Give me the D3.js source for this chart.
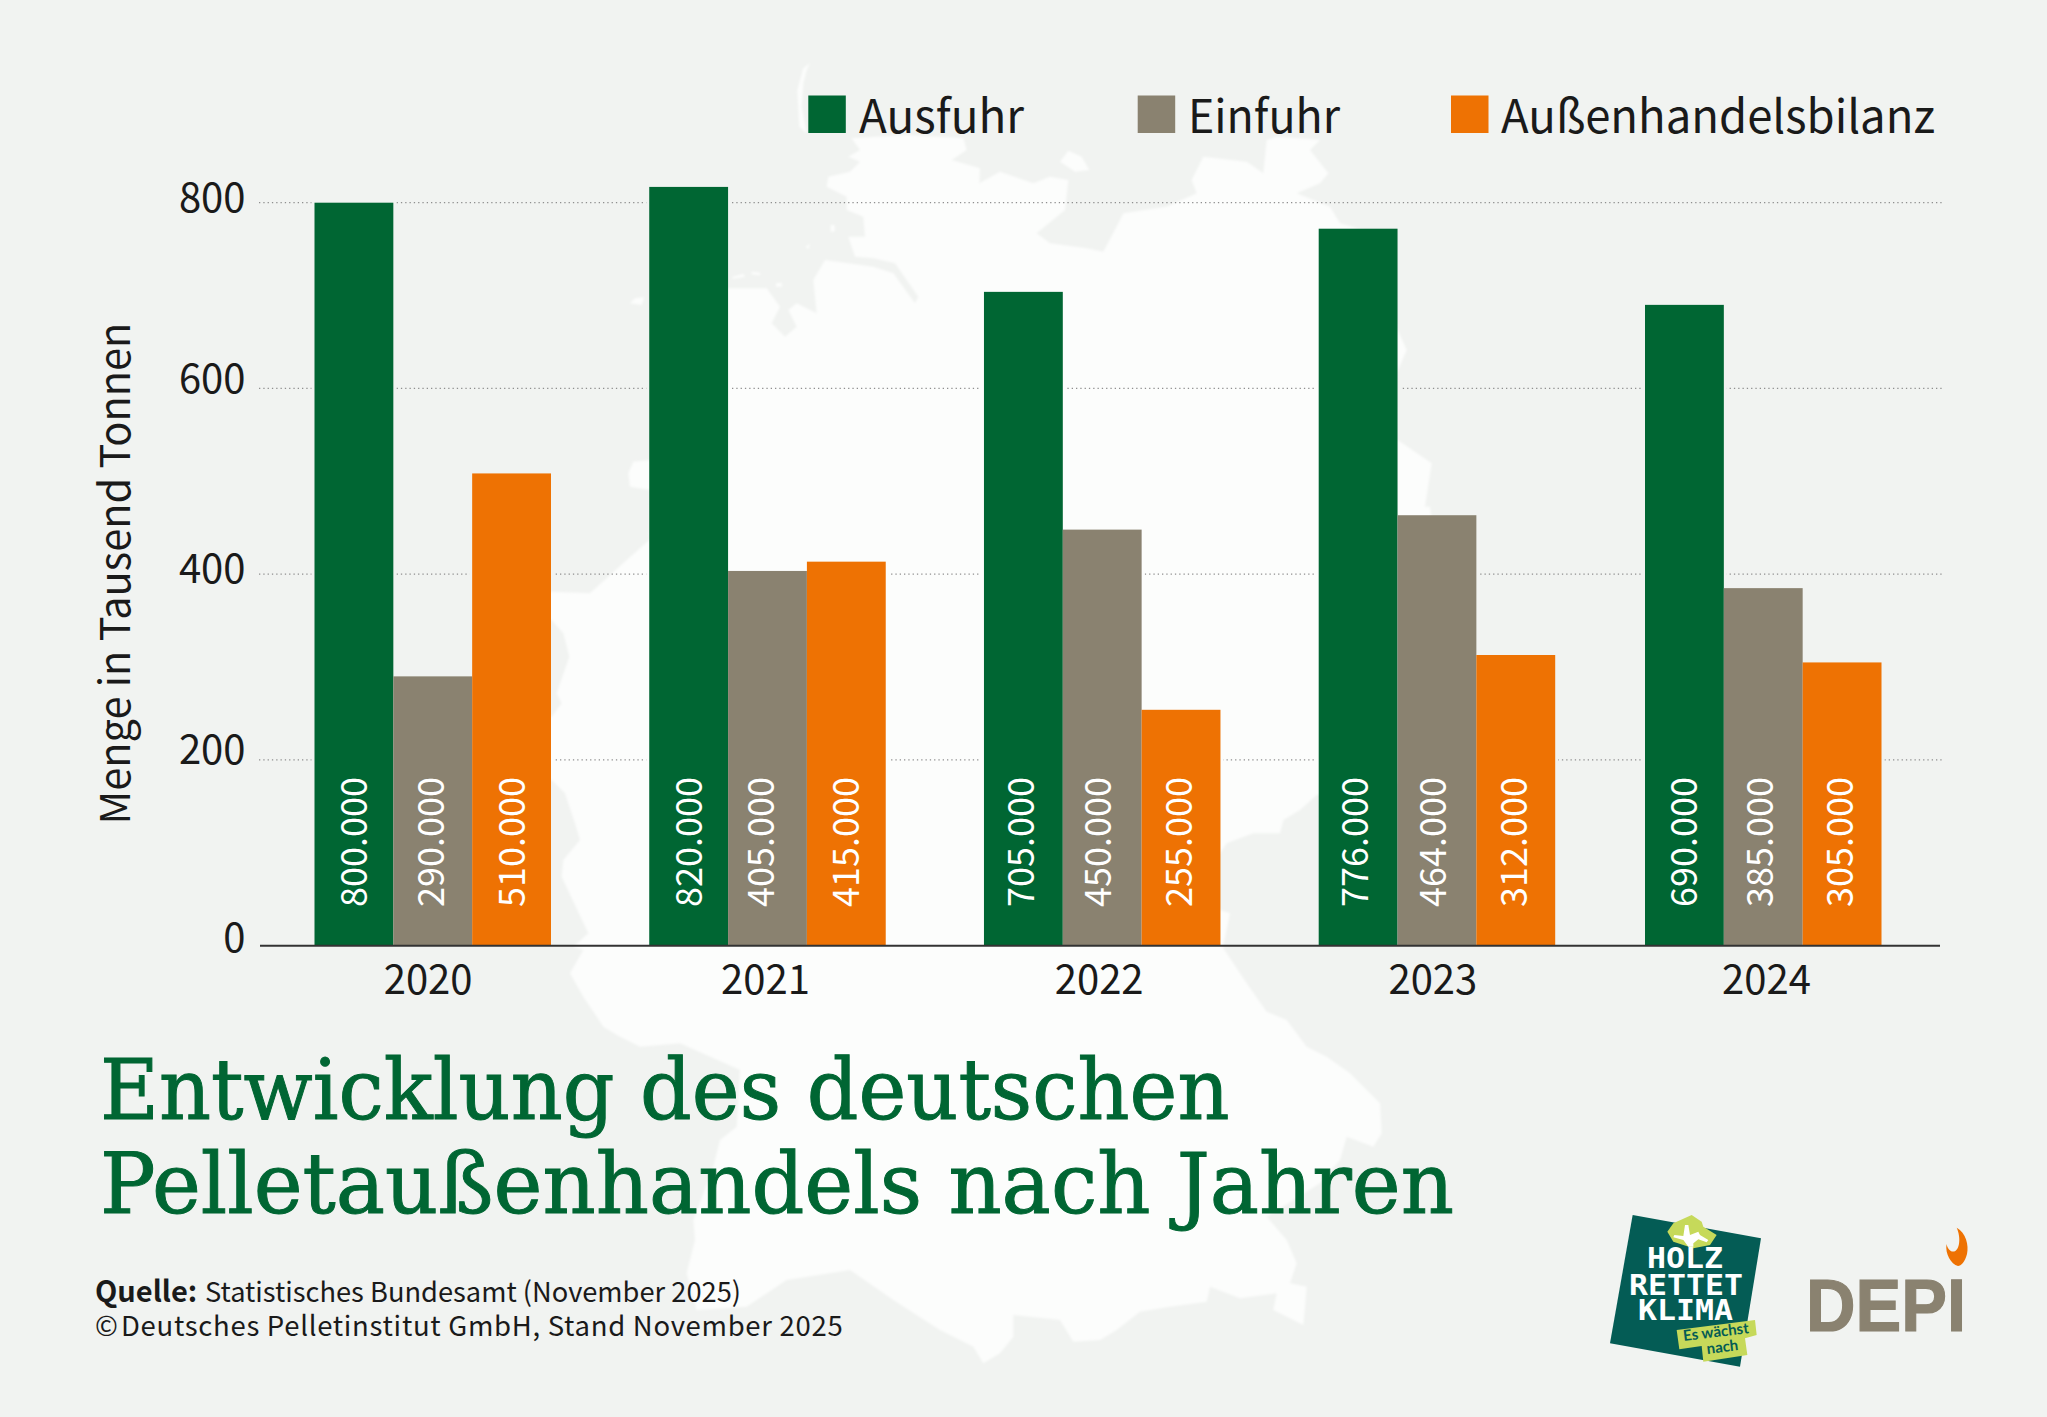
<!DOCTYPE html>
<html lang="de">
<head>
<meta charset="utf-8">
<title>Entwicklung des deutschen Pelletaußenhandels nach Jahren</title>
<script src="https://cdn.jsdelivr.net/npm/d3@7/dist/d3.min.js"></script>
<style>
html,body{margin:0;padding:0;background:#F1F3F1;}
svg{display:block;}
text{font-family:"Noto Sans CJK SC","Noto Sans",sans-serif;fill:#1a1a1a;}
</style>
</head>
<body>
<svg id="chart" width="2047" height="1417" viewBox="0 0 2047 1417"></svg>
<script>
// ---- data (thousand tonnes) ----
const years = [2020, 2021, 2022, 2023, 2024];
const seriesNames = ["Ausfuhr", "Einfuhr", "Außenhandelsbilanz"];
// bar heights
const ausfuhr = [800, 817, 704, 772, 690];
const einfuhr = [290, 403.5, 448, 463.5, 385];
const bilanz  = [508.5, 413.5, 254, 313, 305];
// figures printed inside the bars
const ausfuhrLabels = [800, 820, 705, 776, 690];
const einfuhrLabels = [290, 405, 450, 464, 385];
const bilanzLabels  = [510, 415, 255, 312, 305];
const yTicks = [0, 200, 400, 600, 800];
const titleLines = ["Entwicklung des deutschen", "Pelletaußenhandels nach Jahren"];

// ---- styling ----
const colors = ["#006633", "#8A8270", "#EE7203"];
const BG = "#F1F3F1", LAND = "#FCFDFC";
const allValues = [ausfuhr, einfuhr, bilanz];
const allLabels = [ausfuhrLabels, einfuhrLabels, bilanzLabels];

const svg = d3.select("#chart");
const defs = svg.append("defs");
defs.append("filter").attr("id", "soft").append("feGaussianBlur").attr("stdDeviation", 0.9);
svg.append("rect").attr("width", 2047).attr("height", 1417).attr("fill", BG);

// ---- decorative map of Germany (traced outline, grouped by trace window) ----
const trace = (ox, oy, pts) => pts.map(([x, y]) => [ox + x / 3, oy + y / 3]);
const outline = [].concat(
  trace(540, 40, [[935,295],[1100,285],[1270,295],[1280,330],[1235,360],[1320,385],[1318,430],[1380,395]]),
  trace(1000, 40, [[0,395],[100,430],[150,410],[205,420],[195,510],[110,580],[150,610],[260,625],[310,635],[355,550],[370,520],[500,500],[590,460],[575,420],[610,350],[740,365],[790,400],[800,300],[830,290],[960,300],[930,330],[985,400],[960,430],[890,460],[990,500],[1020,550],[1090,570],[1150,640],[1193,870],[1220,930],[1190,1000],[1193,1200],[1295,1270],[1275,1400]]),
  trace(1000, 500, [[1290,20],[1300,100],[1400,500],[1200,850],[950,885],[900,930],[850,960],[840,1000],[760,1000],[680,1030],[660,1060],[600,1150],[660,1230],[690,1240],[670,1335]]),
  trace(1000, 940, [[670,25],[740,130],[800,215],[860,240],[920,320],[980,350],[1050,400],[1140,490],[1145,580],[1120,620],[1040,590],[1020,660],[960,730],[800,830],[860,900],[890,970],[870,1030],[920,1040],[915,1100],[910,1155],[820,1110],[830,1060],[720,1075],[630,1040],[620,1085],[510,1100],[420,1115],[350,1170],[300,1200],[220,1205],[180,1140],[90,1130],[40,1125],[40,1190],[0,1240]]),
  trace(540, 940, [[1330,1270],[1300,1220],[1200,1170],[1060,1080],[930,990],[740,1020],[620,1100],[470,1110],[440,1000],[465,900],[460,840],[520,680],[540,600],[590,560],[600,390],[420,310],[300,320],[240,290],[190,260],[130,170],[90,100],[130,30]]),
  trace(540, 500, [[100,1340],[145,1300],[65,1130],[70,1080],[120,1020],[105,970],[75,880],[35,840],[0,840],[0,650],[35,650],[65,610],[50,580],[88,470],[70,400],[35,360],[0,360],[0,275],[35,275],[150,280],[260,180],[328,120]]),
  trace(540, 40, [[330,1350],[270,1340],[265,1300],[280,1265],[330,1260],[400,900],[400,745],[570,745],[680,745],[720,800],[695,850],[735,890],[770,860],[745,810],[770,790],[830,820],[820,720],[855,660],[1000,680],[1060,700],[1125,790],[1135,770],[1065,670],[1000,655],[945,650],[925,590],[975,590],[970,530],[920,510],[920,470],[860,440],[865,410],[930,395],[960,365],[925,350],[960,330]])
);
const islands = [
  trace(540, 40, [[810,70],[790,85],[772,150],[778,260],[800,280],[785,200],[790,130],[800,90]]),
  trace(1000, 40, [[180,365],[205,332],[245,350],[268,390],[225,395]]),
  trace(540, 40, [[270,790],[285,775],[312,772],[305,795]]),
  trace(540, 40, [[575,712],[610,702],[615,710],[580,716]]),
  trace(540, 40, [[635,695],[660,698],[660,706],[635,703]]),
  trace(540, 40, [[708,730],[725,728],[725,740],[708,740]]),
  trace(540, 40, [[797,620],[810,612],[805,628]]),
  trace(540, 40, [[872,555],[884,555],[884,575],[872,575]])
];
const mapLine = d3.line().curve(d3.curveLinearClosed);
const mapG = svg.append("g").attr("class", "map").attr("fill", LAND).attr("filter", "url(#soft)");
mapG.append("path").attr("d", mapLine(outline));
islands.forEach(p => mapG.append("path").attr("d", mapLine(p)));

// ---- scales ----
const y = d3.scaleLinear().domain([0, 800]).range([945.7, 202.7]);
const groupX = d3.scaleLinear().domain([2020, 2023, 2024]).range([314.5, 1318.7, 1645]);
const sub = d3.scaleBand().domain(seriesNames).range([0, 236.5]);
const labelX = d3.scaleLinear().domain([2020, 2021, 2024]).range([427.6, 765, 1766]);
const GRID_X0 = 259, GRID_X1 = 1943, AXIS_X0 = 260, AXIS_X1 = 1940;

const rows = years.flatMap((yr, i) => seriesNames.map((s, j) => ({
  year: yr, series: s, idx: j, value: allValues[j][i], label: allLabels[j][i]
})));

// mask: dotted lines keep a small gap round the bars
const mask = defs.append("mask").attr("id", "gridGap")
  .attr("maskUnits", "userSpaceOnUse").attr("x", 0).attr("y", 0).attr("width", 2047).attr("height", 1417);
mask.append("rect").attr("width", 2047).attr("height", 1417).attr("fill", "#fff");
mask.selectAll("rect.b").data(rows).join("rect").attr("class", "b")
  .attr("x", d => groupX(d.year) + sub(d.series) - 3)
  .attr("width", sub.bandwidth() + 6)
  .attr("y", d => y(d.value) - 3)
  .attr("height", d => y(0) - y(d.value) + 3)
  .attr("fill", "#000");

// ---- grid ----
svg.append("g").attr("mask", "url(#gridGap)")
  .selectAll("line").data(yTicks.filter(t => t > 0)).join("line")
  .attr("x1", GRID_X0).attr("x2", GRID_X1)
  .attr("y1", d => y(d)).attr("y2", d => y(d))
  .attr("stroke", "#8f8f8f").attr("stroke-width", 1.3).attr("stroke-dasharray", "1.3 3");

// ---- bars ----
svg.append("g").selectAll("rect").data(rows).join("rect")
  .attr("x", d => groupX(d.year) + sub(d.series))
  .attr("width", sub.bandwidth())
  .attr("y", d => y(d.value))
  .attr("height", d => y(0) - y(d.value))
  .attr("fill", d => colors[d.idx]);

// ---- value labels ----
const de = d3.formatLocale({decimal: ",", thousands: ".", grouping: [3], currency: ["", " €"]});
const fmt = de.format(",");
const labelNudge = {"2021Einfuhr": -6.5, "2022Ausfuhr": -2.5, "2022Einfuhr": -4.5, "2022Außenhandelsbilanz": -2,
  "2023Ausfuhr": -3.5, "2023Einfuhr": -3.5, "2023Außenhandelsbilanz": -1.5, "2024Einfuhr": -3, "2024Außenhandelsbilanz": -2, "2020Einfuhr": -1.5};
svg.append("g").selectAll("text").data(rows).join("text")
  .attr("transform", d => {
    const cx = groupX(d.year) + sub(d.series) + sub.bandwidth() / 2 + (labelNudge[d.year + d.series] || 0);
    return `translate(${cx + 13},907) rotate(-90)`;
  })
  .attr("font-size", 36)
  .style("fill", "#fff")
  .text(d => fmt(d.label * 1000));

// ---- axes ----
const yAxis = d3.axisLeft(y).tickValues(yTicks).tickSize(0).tickPadding(0);
const yG = svg.append("g").attr("transform", "translate(245.5,0)").call(yAxis);
yG.select(".domain").remove();
const yNudge = {0: 6, 200: 4, 400: 8.5, 600: 4, 800: 8.8};
yG.selectAll("text").attr("font-size", 40).attr("x", 0)
  .attr("dy", null).attr("y", d => yNudge[d]).attr("text-anchor", "end").style("fill", "#1a1a1a");

svg.append("line").attr("x1", AXIS_X0).attr("x2", AXIS_X1).attr("y1", y(0)).attr("y2", y(0))
  .attr("stroke", "#333").attr("stroke-width", 2);

const xAxis = d3.axisBottom(labelX).tickValues(years).tickFormat(d3.format("d")).tickSize(0).tickPadding(0);
const xG = svg.append("g").attr("transform", "translate(0,993.5)").call(xAxis);
xG.select(".domain").remove();
xG.selectAll("text").attr("font-size", 40).attr("y", 0).attr("dy", null).attr("text-anchor", "middle").style("fill", "#1a1a1a");

svg.append("text").attr("transform", "translate(129.5,573.5) rotate(-90)")
  .attr("text-anchor", "middle").attr("font-size", 41.5).text("Menge in Tausend Tonnen");

// ---- legend ----
const legendSwatchX = [808.3, 1137.7, 1451];
const legendTextX = [859, 1188, 1501];
const legendTextLen = [165, 152, 434];
const legend = svg.append("g").selectAll("g").data(seriesNames).join("g");
legend.append("rect").attr("x", (d, i) => legendSwatchX[i]).attr("y", 95.5)
  .attr("width", 37.5).attr("height", 37.5).attr("fill", (d, i) => colors[i]);
legend.append("text").attr("x", (d, i) => legendTextX[i]).attr("y", 133)
  .attr("font-size", 46)
  .attr("textLength", (d, i) => legendTextLen[i]).attr("lengthAdjust", "spacingAndGlyphs")
  .text(d => d);

// ---- title ----
const titleLen = [1129.5, 1354];
const titleBase = [1118.5, 1212.5];
svg.append("g").selectAll("text").data(titleLines).join("text")
  .attr("x", 100).attr("y", (d, i) => titleBase[i])
  .attr("font-size", 84)
  .attr("textLength", (d, i) => titleLen[i]).attr("lengthAdjust", "spacingAndGlyphs")
  .style("font-family", '"DejaVu Serif",serif').style("fill", "#006633")
  .attr("stroke", "#006633").attr("stroke-width", 1)
  .text(d => d);

// ---- footer ----
svg.append("text").attr("x", 95).attr("y", 1301.7).attr("font-size", 29).attr("font-weight", 700).text("Quelle:");
svg.append("text").attr("x", 205).attr("y", 1301.7).attr("font-size", 27.5)
  .attr("textLength", 536).attr("lengthAdjust", "spacingAndGlyphs")
  .text("Statistisches Bundesamt (November 2025)");
svg.append("text").attr("x", 95).attr("y", 1336).attr("font-size", 27.5).text("©");
svg.append("text").attr("x", 121).attr("y", 1336).attr("font-size", 27.5)
  .attr("textLength", 721.7).attr("lengthAdjust", "spacing")
  .text("Deutsches Pelletinstitut GmbH, Stand November 2025");

// ---- logos ----
const logo = svg.append("g");
const lp = pts => d3.line().curve(d3.curveLinearClosed)(trace(1560, 1180, pts));
logo.append("path").attr("d", lp([[218,105],[603,175],[540,560],[150,490]])).attr("fill", "#045C55");
logo.append("path").attr("d", lp([[340,130],[395,105],[425,125],[430,140],[470,165],[450,195],[400,205],[340,185],[322,155]])).attr("fill", "#C6D95A");
logo.append("path").attr("d", lp([[375,135],[385,135],[390,165],[415,155],[420,165],[445,180],[440,187],[415,178],[400,190],[400,200],[385,200],[370,180],[340,172],[343,165],[370,168]])).attr("fill", "#fff");
const logoLines = [["HOLZ", 1685, 1268, 76], ["RETTET", 1686, 1295, 114], ["KLIMA", 1685.5, 1320, 95]];
logo.selectAll("text.h").data(logoLines).join("text").attr("class", "h")
  .attr("x", d => d[1]).attr("y", d => d[2]).attr("text-anchor", "middle")
  .attr("font-size", 28).attr("font-weight", 700)
  .attr("textLength", d => d[3]).attr("lengthAdjust", "spacingAndGlyphs")
  .style("font-family", '"DejaVu Sans Mono",monospace').style("fill", "#fff").text(d => d[0]);
logo.append("path").attr("d", lp([[350,450],[585,420],[590,465],[555,475],[562,525],[430,545],[425,498],[358,508]])).attr("fill", "#C6D95A");
logo.append("text").attr("transform", "translate(1716.5,1337) rotate(-7)").attr("text-anchor", "middle")
  .attr("font-size", 15).attr("font-weight", 700).style("font-family", "Lato,sans-serif").style("fill", "#045C55").text("Es wächst");
logo.append("text").attr("transform", "translate(1723,1352) rotate(-7)").attr("text-anchor", "middle")
  .attr("font-size", 15).attr("font-weight", 700).style("font-family", "Lato,sans-serif").style("fill", "#045C55").text("nach");
logo.append("text").attr("x", 1806).attr("y", 1330.7).attr("font-size", 75).attr("font-weight", 700)
  .attr("textLength", 160).attr("lengthAdjust", "spacingAndGlyphs")
  .attr("stroke", "#8A8270").attr("stroke-width", 1.2)
  .style("font-family", '"Liberation Sans",sans-serif').style("fill", "#8A8270").text("DEPI");
logo.append("path").attr("fill", "#EE7203")
  .attr("d", "M1956.7,1227.7 C1966,1233 1969,1245 1967,1254 C1965,1262 1961,1266 1958,1266 C1951,1264 1945,1254 1946.5,1244 C1948,1250 1951,1252 1954,1251.5 C1960,1250 1961,1237 1956.7,1227.7 Z");
</script>
</body>
</html>
